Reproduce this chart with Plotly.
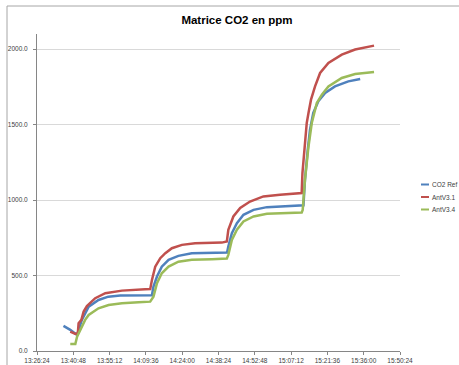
import plotly.graph_objects as go

DAY = "2014-05-20 "

# CO2 Ref
ref_time = ["13:36:54", "13:39:36", "13:42:18", "13:44:12", "13:46:54", "13:50:48", "13:54:42",
            "13:59:24", "14:12:00", "14:12:36", "14:14:00", "14:15:54", "14:18:36", "14:22:30",
            "14:27:48", "14:41:48", "14:42:18", "14:43:42", "14:45:42", "14:48:18", "14:52:18",
            "14:57:36", "15:12:06", "15:12:42", "15:13:48", "15:14:42", "15:16:00", "15:18:00",
            "15:20:42", "15:24:36", "15:29:54", "15:34:36"]
ref_ppm = [166, 140, 106, 206, 294, 338, 360,
           368, 370, 427, 493, 559, 604, 630,
           648, 652, 692, 781, 847, 902, 935,
           953, 965, 1134, 1333, 1466, 1577, 1654,
           1709, 1753, 1786, 1802]

# AntV3.1
a31_time = ["13:39:36", "13:41:36", "13:42:36", "13:42:54", "13:44:00", "13:44:54", "13:46:12",
            "13:49:30", "13:53:30", "14:00:06", "14:09:18", "14:11:18", "14:12:00", "14:13:18",
            "14:15:18", "14:17:18", "14:19:54", "14:23:54", "14:29:06", "14:39:42", "14:41:42",
            "14:42:18", "14:44:18", "14:47:00", "14:50:54", "14:56:12", "15:02:48", "15:11:24",
            "15:11:42", "15:12:30", "15:13:24", "15:14:06", "15:15:06", "15:16:42", "15:18:42",
            "15:22:00", "15:27:18", "15:32:36", "15:40:06"]
a31_ppm = [128, 113, 118, 184, 206, 261, 298,
           350, 383, 400, 409, 410, 471, 559,
           615, 648, 681, 703, 714, 718, 725,
           803, 891, 947, 990, 1024, 1035, 1046,
           1179, 1355, 1510, 1577, 1665, 1753, 1842,
           1908, 1963, 1997, 2023]

# AntV3.4
a34_time = ["13:39:36", "13:41:36", "13:42:18", "13:44:12", "13:45:30", "13:46:54", "13:50:48",
            "13:54:48", "14:00:06", "14:06:42", "14:11:18", "14:12:36", "14:14:00", "14:15:54",
            "14:18:36", "14:22:30", "14:27:48", "14:35:48", "14:41:42", "14:42:18", "14:43:42",
            "14:45:42", "14:48:18", "14:52:18", "14:57:36", "15:11:24", "15:11:48", "15:12:42",
            "15:14:06", "15:15:24", "15:17:24", "15:19:24", "15:22:00", "15:27:18", "15:32:36",
            "15:40:06"]
a34_ppm = [46, 46, 95, 161, 206, 239, 283,
           305, 316, 323, 327, 360, 449, 515,
           559, 592, 604, 608, 612, 637, 736,
           803, 858, 891, 909, 917, 935, 1134,
           1355, 1510, 1643, 1698, 1753, 1809, 1835,
           1849]

series_names = ["CO2 Ref", "AntV3.1", "AntV3.4"]
series_times = [ref_time, a31_time, a34_time]
series_values = [ref_ppm, a31_ppm, a34_ppm]
series_colors = ["#4F81BD", "#C0504D", "#9BBB59"]

W, H = 459, 365
L, R, T, B = 37, 59, 34, 14
PW, PH = W - L - R, H - T - B


def px_x(p):
    return (p - L) / PW


def px_y(p):
    return (H - B - p) / PH


fig = go.Figure()
for name, t, v, c in zip(series_names, series_times, series_values, series_colors):
    fig.add_trace(go.Scatter(x=[DAY + s for s in t], y=v, mode="lines", name=name,
                             line=dict(color=c, width=2.5), showlegend=False))

axis_font = dict(family="Liberation Sans", size=6.5, color="#404040")

fig.update_layout(
    width=W, height=H,
    margin=dict(l=L, r=R, t=T, b=B, pad=0),
    paper_bgcolor="white", plot_bgcolor="white",
    font=dict(family="Liberation Sans", color="#404040"),
    title=dict(text="<b>Matrice CO2 en ppm</b>", x=237 / W, xanchor="center",
               y=1 - 20 / H, yanchor="middle", xref="container", yref="container",
               font=dict(family="Liberation Sans", size=11.5, color="#000000")),
    xaxis=dict(type="date", range=[DAY + "13:26:24", DAY + "15:50:24"],
               tick0=DAY + "13:26:24", dtick=864000, tickformat="%H:%M:%S",
               showgrid=False, showline=True, linecolor="#868686", linewidth=1,
               ticks="outside", ticklen=3, tickcolor="#868686", tickfont=axis_font,
               automargin=False, zeroline=False),
    yaxis=dict(range=[0, 2100], dtick=500, tick0=0, tickformat=".1f",
               showgrid=True, gridcolor="#d9d9d9", gridwidth=1,
               showline=True, linecolor="#868686", linewidth=1,
               ticks="outside", ticklen=3, tickcolor="#868686", tickfont=axis_font,
               ticklabelstandoff=4, automargin=False, zeroline=False),
    showlegend=False,
)

# legend (Excel-style, right side)
legend_y = [184.5, 197, 209.5]
for name, c, ly in zip(series_names, series_colors, legend_y):
    fig.add_shape(type="line", xref="paper", yref="paper",
                  x0=px_x(421), x1=px_x(429), y0=px_y(ly), y1=px_y(ly),
                  line=dict(color=c, width=2))
    fig.add_annotation(text=name, xref="paper", yref="paper", x=px_x(430), y=px_y(ly),
                       xanchor="left", yanchor="middle", showarrow=False,
                       font=dict(family="Liberation Sans", size=6.5, color="#404040"))

# chart-area border (left and top edges visible)
bx = px_x(7)
by = px_y(6)
fig.add_shape(type="line", xref="paper", yref="paper", x0=bx, x1=bx, y0=-0.2, y1=by,
              line=dict(color="#a6a6a6", width=1))
fig.add_shape(type="line", xref="paper", yref="paper", x0=bx, x1=1.3, y0=by, y1=by,
              line=dict(color="#a6a6a6", width=1))

fig.write_html("out.html")
